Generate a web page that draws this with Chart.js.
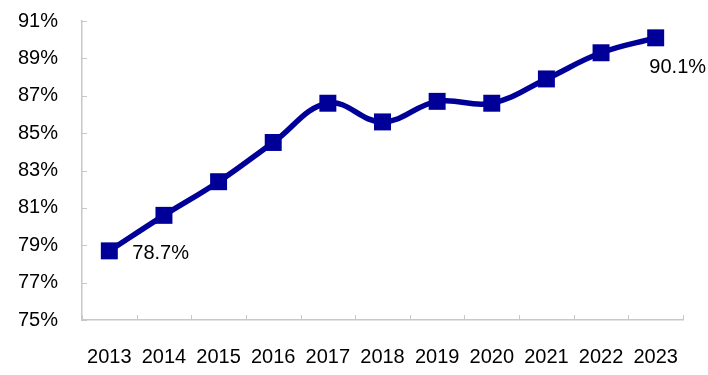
<!DOCTYPE html>
<html>
<head>
<meta charset="utf-8">
<script src="https://cdn.jsdelivr.net/npm/chart.js@4"></script>
<style>
  html, body { margin: 0; padding: 0; background: #fff; }
  #wrap { width: 708px; height: 375px; position: relative; }
</style>
</head>
<body>
<div id="wrap"><canvas id="rateChart"></canvas></div>
<script>
// Data
const years = ['2013', '2014', '2015', '2016', '2017', '2018', '2019', '2020', '2021', '2022', '2023'];
const rates = [78.7, 80.6, 82.4, 84.5, 86.6, 85.6, 86.7, 86.6, 87.9, 89.3, 90.1];
const yTicks = [75, 77, 79, 81, 83, 85, 87, 89, 91];
const labelled = [0, 10];

const navy = '#000099';
const axisGrey = '#c8c8c8';
const fontFamily = '"Liberation Sans", Arial, sans-serif';

// small tick marks drawn inside the plot, like the original
const innerTicks = {
  id: 'innerTicks',
  afterDraw(chart) {
    const c = chart.ctx, x = chart.scales.x, y = chart.scales.y;
    c.save();
    c.strokeStyle = axisGrey;
    c.lineWidth = 1;
    yTicks.forEach(v => {
      const py = Math.round(y.getPixelForValue(v)) + 0.5;
      c.beginPath(); c.moveTo(x.left, py); c.lineTo(x.left + 5, py); c.stroke();
    });
    const step = (x.right - x.left) / years.length;
    for (let i = 0; i <= years.length; i++) {
      const px = Math.round(x.left + i * step) + 0.5;
      c.beginPath(); c.moveTo(px, y.bottom); c.lineTo(px, y.bottom - 5); c.stroke();
    }
    c.restore();
  }
};

// value labels on the first and last points
const endLabels = {
  id: 'endLabels',
  afterDatasetsDraw(chart) {
    const c = chart.ctx;
    const pts = chart.getDatasetMeta(0).data;
    c.save();
    c.fillStyle = '#000';
    c.font = '20px ' + fontFamily;
    c.textBaseline = 'middle';
    labelled.forEach(i => {
      const p = pts[i];
      const txt = rates[i].toFixed(1) + '%';
      if (i === 0) {
        c.textAlign = 'left';
        c.fillText(txt, p.x + 23, p.y + 3);
      } else {
        c.textAlign = 'center';
        c.fillText(txt, p.x + 22, p.y + 30);
      }
    });
    c.restore();
  }
};

const ctx = document.getElementById('rateChart').getContext('2d');

new Chart(ctx, {
  type: 'line',
  data: {
    labels: years,
    datasets: [{
      data: rates,
      borderColor: navy,
      backgroundColor: navy,
      borderWidth: 5.5,
      tension: 0.4,
      pointStyle: 'rect',
      pointRadius: 12,
      pointHoverRadius: 12,
      pointBorderWidth: 0,
      clip: false
    }]
  },
  options: {
    responsive: true,
    maintainAspectRatio: false,
    animation: false,
    layout: { padding: { top: 21, right: 25, left: 0, bottom: 0 } },
    scales: {
      x: {
        offset: true,
        grid: { display: false, drawTicks: false },
        border: { color: axisGrey, width: 1.5 },
        ticks: { color: '#000', padding: 25, maxRotation: 0, autoSkip: false,
                 font: { family: fontFamily, size: 20 } },
        afterFit(s) { s.height = 55; s.paddingLeft = 0; s.paddingRight = 0; }
      },
      y: {
        min: 75,
        max: 91,
        afterBuildTicks(s) { s.ticks = yTicks.map(v => ({ value: v })); },
        grid: { display: false, drawTicks: false },
        border: { color: axisGrey, width: 1.5 },
        ticks: { color: '#000', padding: 24,
                 font: { family: fontFamily, size: 20 },
                 callback: v => v + '%' },
        afterFit(s) { s.width = 82; s.paddingTop = 0; s.paddingBottom = 0; }
      }
    },
    plugins: {
      legend: { display: false },
      tooltip: { enabled: false }
    }
  },
  plugins: [innerTicks, endLabels]
});
</script>
</body>
</html>
